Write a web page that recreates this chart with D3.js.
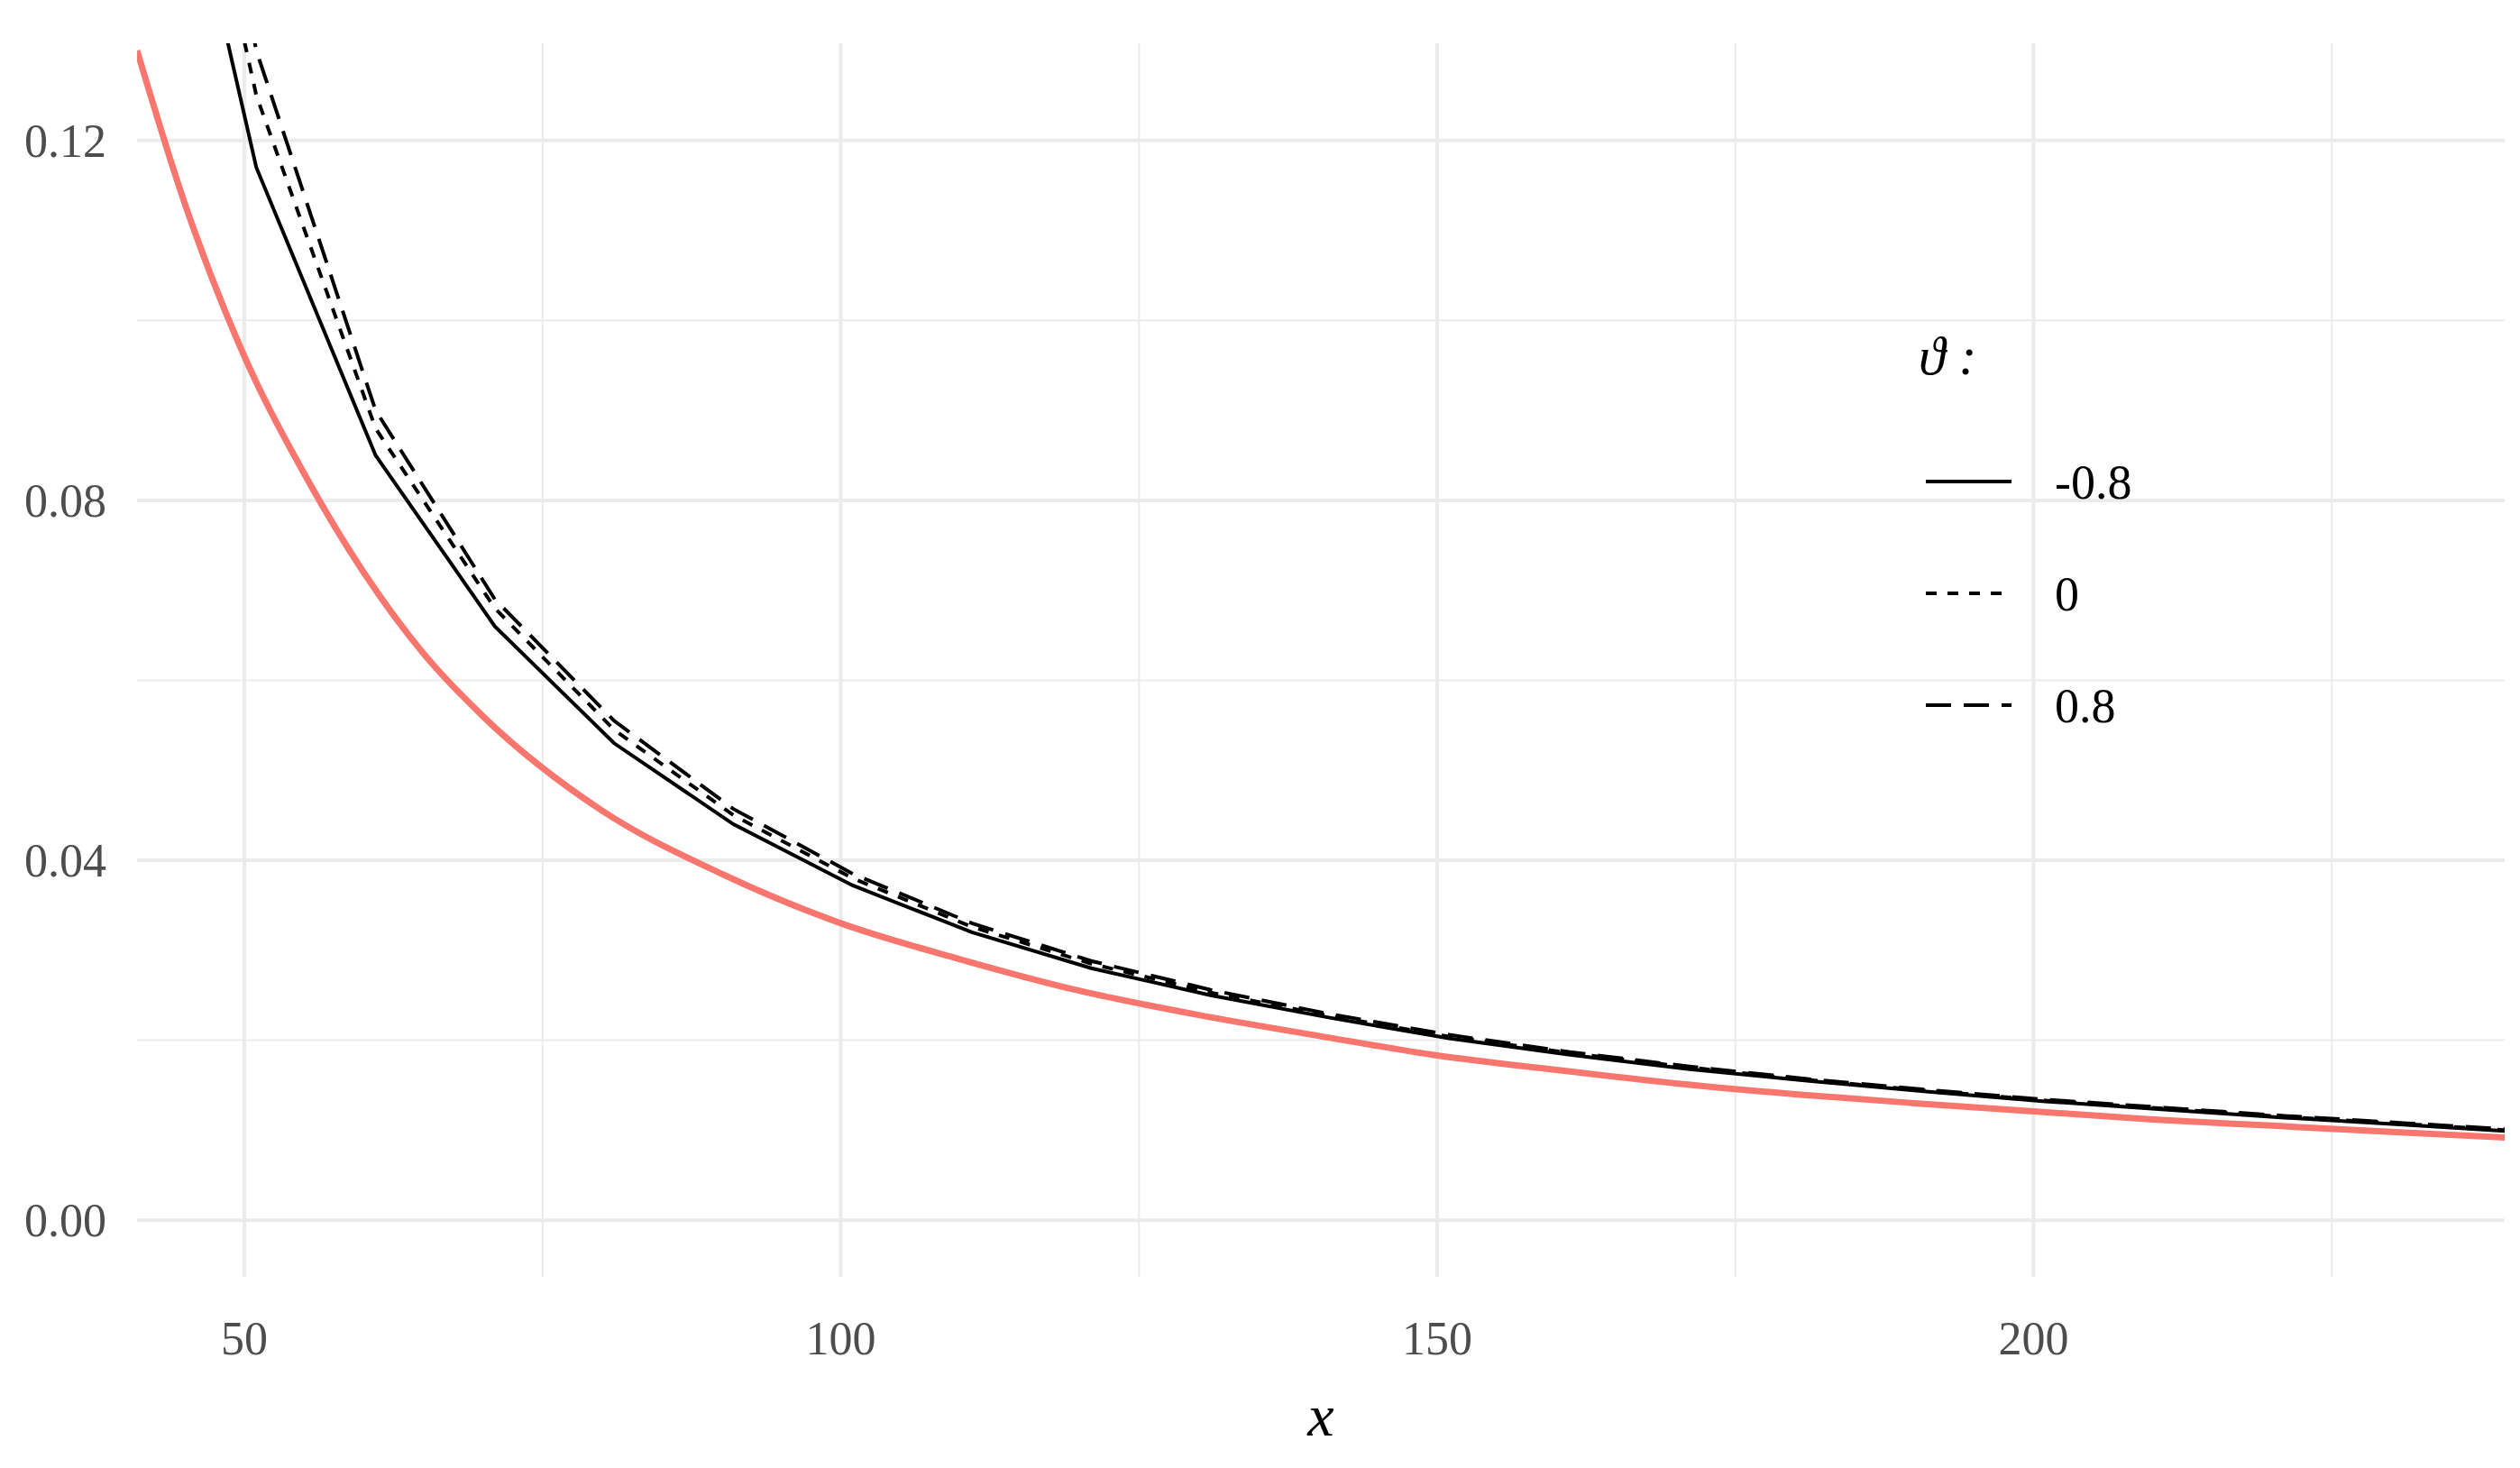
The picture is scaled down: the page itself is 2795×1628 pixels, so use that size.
<!DOCTYPE html>
<html><head><meta charset="utf-8">
<script src="https://cdn.jsdelivr.net/npm/d3@7"></script>
<style>body{margin:0;background:#fff}</style>
</head><body><div id="chart"></div>
<script>
// red reference curve
const redX = [41, 45, 50, 55, 60, 65, 70, 80, 90, 100, 110, 120, 130, 140, 150, 160, 170, 180, 190, 200, 210, 220, 230, 241];
const redY = [0.130, 0.113, 0.096, 0.083, 0.072, 0.063, 0.056, 0.0455, 0.0385, 0.0330, 0.0290, 0.0255, 0.0228, 0.0205, 0.0183, 0.0167, 0.0152, 0.0140, 0.0130, 0.0121, 0.0112, 0.0105, 0.0098, 0.0091];
// black step series (theta)
const stepX = [41, 51, 61, 71, 81, 91, 101, 111, 121, 131, 141, 151, 161, 171, 181, 191, 201, 211, 221, 231, 241];
const thetaNeg = [0.175, 0.117, 0.085, 0.066, 0.053, 0.0440, 0.0372, 0.0320, 0.0280, 0.0250, 0.0225, 0.0202, 0.0184, 0.0168, 0.0155, 0.0143, 0.0132, 0.0123, 0.0114, 0.0106, 0.0098];
const thetaZero = [0.185, 0.125, 0.088, 0.068, 0.0545, 0.0450, 0.0380, 0.0326, 0.0285, 0.0253, 0.0227, 0.0204, 0.0186, 0.0170, 0.0156, 0.0144, 0.0133, 0.0124, 0.0115, 0.0107, 0.0099];
const thetaPos = [0.195, 0.130, 0.090, 0.069, 0.0555, 0.0457, 0.0385, 0.0330, 0.0288, 0.0256, 0.0229, 0.0206, 0.0187, 0.0171, 0.0157, 0.0145, 0.0134, 0.0125, 0.0116, 0.0108, 0.0100];
const legendLabels = ["-0.8", "0", "0.8"];
const dashes = [null, "12,12", "28,14"];
const xTicks = [50, 100, 150, 200];
const yTicks = [0, 0.04, 0.08, 0.12];

const W = 2795, H = 1628;
const L = 152, R = 2778, T = 48, B = 1416;
const svg = d3.select("#chart").append("svg").attr("width", W).attr("height", H);
const x = d3.scaleLinear().domain([41, 239.5]).range([L, R]);
const y = d3.scaleLinear().domain([-0.0063, 0.1308]).range([B, T]);
const font = "'Liberation Serif', serif";

const grid = svg.append("g");
const minorX = [75, 125, 175, 225], minorY = [0.02, 0.06, 0.10];
grid.selectAll(".mx").data(minorX).enter().append("line")
  .attr("x1", d => x(d)).attr("x2", d => x(d)).attr("y1", T).attr("y2", B)
  .attr("stroke", "#ebebeb").attr("stroke-width", 2);
grid.selectAll(".my").data(minorY).enter().append("line")
  .attr("y1", d => y(d)).attr("y2", d => y(d)).attr("x1", L).attr("x2", R)
  .attr("stroke", "#ebebeb").attr("stroke-width", 2);
grid.selectAll(".gx").data(xTicks).enter().append("line")
  .attr("x1", d => x(d)).attr("x2", d => x(d)).attr("y1", T).attr("y2", B)
  .attr("stroke", "#ebebeb").attr("stroke-width", 4);
grid.selectAll(".gy").data(yTicks).enter().append("line")
  .attr("y1", d => y(d)).attr("y2", d => y(d)).attr("x1", L).attr("x2", R)
  .attr("stroke", "#ebebeb").attr("stroke-width", 4);

svg.selectAll(".xt").data(xTicks).enter().append("text")
  .attr("x", d => x(d)).attr("y", 1484).attr("dy", "0.35em").attr("text-anchor", "middle")
  .attr("font-family", font).attr("font-size", 52).attr("fill", "#4d4d4d").text(d => d);
svg.selectAll(".yt").data(yTicks).enter().append("text")
  .attr("x", 118).attr("y", d => y(d)).attr("dy", "0.35em").attr("text-anchor", "end")
  .attr("font-family", font).attr("font-size", 52).attr("fill", "#4d4d4d").text(d => d.toFixed(2));
svg.append("text").attr("x", 1465).attr("y", 1592).attr("text-anchor", "middle")
  .attr("font-family", font).attr("font-style", "italic").attr("font-size", 66).text("x");

svg.append("clipPath").attr("id", "clip").append("rect")
  .attr("x", L).attr("y", T).attr("width", R - L).attr("height", B - T);
const plot = svg.append("g").attr("clip-path", "url(#clip)");
const line = d3.line().x(d => x(d[0])).y(d => y(d[1]));
const curve = d3.line().curve(d3.curveMonotoneX).x(d => x(d[0])).y(d => y(d[1]));

plot.append("path").datum(d3.zip(redX, redY)).attr("d", curve)
  .attr("fill", "none").attr("stroke", "#F8766D").attr("stroke-width", 7);
[thetaNeg, thetaZero, thetaPos].forEach((s, i) => {
  plot.append("path").datum(d3.zip(stepX, s)).attr("d", line)
    .attr("fill", "none").attr("stroke", "#000").attr("stroke-width", 4)
    .attr("stroke-dasharray", dashes[i]);
});

const lg = svg.append("g");
lg.append("text").attr("x", 2128).attr("y", 394).attr("dy", "0.35em").attr("font-family", font)
  .attr("font-size", 60).attr("font-style", "italic").text("ϑ :");
legendLabels.forEach((l, i) => {
  const yy = 534 + i * 124;
  lg.append("line").attr("x1", 2136).attr("x2", 2231).attr("y1", yy).attr("y2", yy)
    .attr("stroke", "#000").attr("stroke-width", 4).attr("stroke-dasharray", dashes[i]);
  lg.append("text").attr("x", 2279).attr("y", yy).attr("dy", "0.35em")
    .attr("font-family", font).attr("font-size", 54).text(l);
});
</script></body></html>
